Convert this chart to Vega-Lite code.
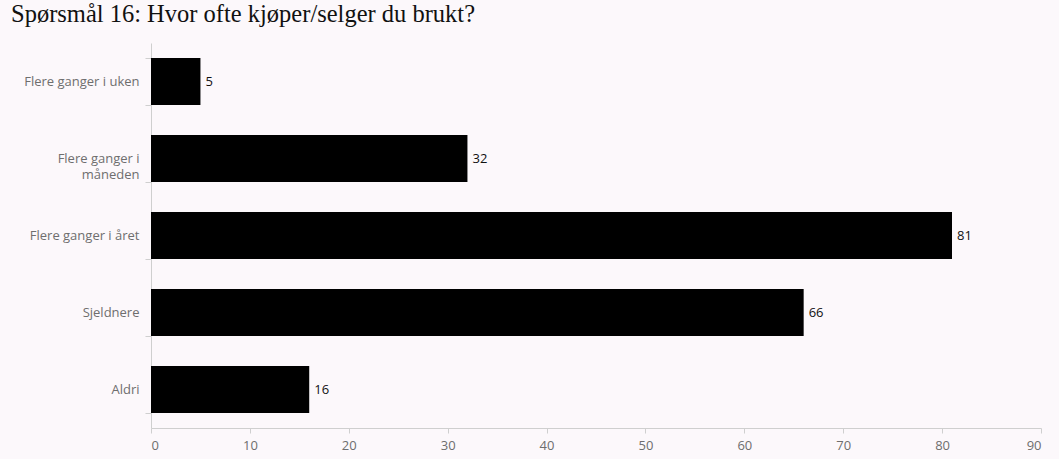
{
  "$schema": "https://vega.github.io/schema/vega-lite/v6.json",
  "autosize": {"type": "none"},
  "width": 890,
  "height": 385,
  "padding": {"left": 151, "top": 43, "right": 18, "bottom": 31},
  "background": "#fcf8fb",
  "title": {
    "text": "Spørsmål 16: Hvor ofte kjøper/selger du brukt?",
    "anchor": "start",
    "frame": "group",
    "font": "Liberation Serif",
    "fontSize": 24.5,
    "fontWeight": "normal",
    "color": "#111111",
    "baseline": "alphabetic",
    "dx": -140,
    "dy": 13
  },
  "data": {
    "values": [
      {"svar": "Flere ganger i uken", "antall": 5},
      {"svar": "Flere ganger i måneden", "antall": 32},
      {"svar": "Flere ganger i året", "antall": 81},
      {"svar": "Sjeldnere", "antall": 66},
      {"svar": "Aldri", "antall": 16}
    ]
  },
  "encoding": {
    "y": {
      "field": "svar",
      "type": "nominal",
      "sort": null,
      "scale": {"paddingInner": 0.39, "paddingOuter": 0.195},
      "axis": {
        "title": null,
        "tickBand": "extent",
        "tickSize": 6,
        "tickColor": "#cfcfcf",
        "domainColor": "#cfcfcf",
        "labelPadding": 6,
        "labelFont": "Open Sans",
        "labelFontSize": 13,
        "labelColor": "#6e6e6e",
        "labelLineHeight": 16,
        "labelExpr": "datum.label == 'Flere ganger i måneden' ? ['Flere ganger i', 'måneden'] : datum.label"
      }
    },
    "x": {
      "field": "antall",
      "type": "quantitative",
      "scale": {"domain": [0, 90], "nice": false},
      "axis": {
        "title": null,
        "values": [0, 10, 20, 30, 40, 50, 60, 70, 80, 90],
        "grid": false,
        "tickSize": 5,
        "tickColor": "#cfcfcf",
        "domainColor": "#cfcfcf",
        "labelPadding": 6,
        "labelFont": "Open Sans",
        "labelFontSize": 13,
        "labelColor": "#6e6e6e"
      }
    }
  },
  "layer": [
    {"mark": {"type": "bar", "color": "#000000"}},
    {
      "mark": {"type": "text", "align": "left", "dx": 5, "font": "Open Sans", "fontSize": 13, "color": "#111111"},
      "encoding": {"text": {"field": "antall", "type": "quantitative"}}
    }
  ],
  "config": {"view": {"stroke": null}}
}
